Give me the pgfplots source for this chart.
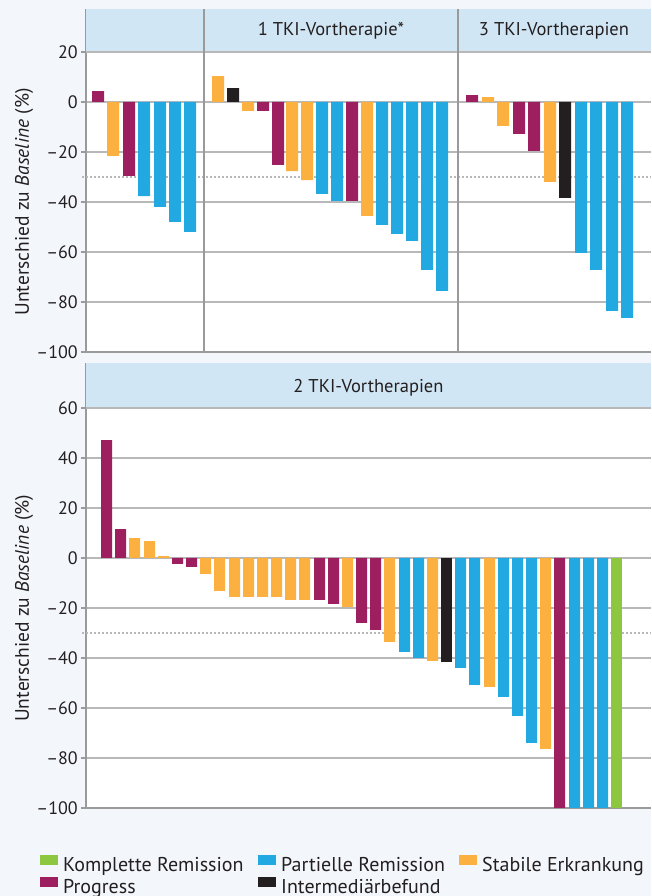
\documentclass[border=0pt]{standalone}
\usepackage{pgfplots}
\pgfplotsset{compat=1.18}
\usepackage{fontspec}
\setmainfont{PT Sans}
\definecolor{bgc}{HTML}{F3F7FC}
\definecolor{hdr}{HTML}{D1E6F4}
\definecolor{cCR}{HTML}{8DC63F}
\definecolor{cPR}{HTML}{23A9E1}
\definecolor{cSD}{HTML}{FBB040}
\definecolor{cPD}{HTML}{9E1F5F}
\definecolor{cIM}{HTML}{231F20}
\definecolor{gridc}{HTML}{B8B8B8}
\definecolor{axc}{HTML}{9A9A9A}
\definecolor{txt}{HTML}{231F20}
\newcommand{\tickfont}{\fontsize{18}{21}\selectfont}
\newcommand{\hdrfont}{\fontsize{18.5}{22}\selectfont}
\newcommand{\legfont}{\fontsize{20}{23}\selectfont}
\newcommand{\labfont}{\fontsize{19.5}{23}\selectfont}
\pgfplotsset{
  mybase/.style={
    scale only axis, width=565pt, xmin=86, xmax=651,
    anchor=south west, clip=false,
    axis background/.style={fill=white},
    axis x line*=bottom, axis y line*=left,
    axis line style={axc, line width=1.2pt, -},
    xtick=\empty,
    ymajorgrids, grid style={gridc, line width=1.2pt},
    tick align=outside, major tick length=5pt,
    tick style={axc, line width=1.2pt},
    yticklabel style={font=\tickfont, text=txt, inner sep=3pt},
    ylabel={Unterschied zu \textit{Baseline} (\%)},
    ylabel style={font=\labfont, text=txt, anchor=center},
  },
  mybar/.style={ybar, bar shift=0pt, draw=none, fill=#1,
    legend image code/.code={\fill[#1] (0pt,0pt) rectangle (18pt,10pt); \path (21pt,0pt);}},
}
\begin{document}
\begin{tikzpicture}
\fill[bgc] (0pt,0pt) rectangle (651pt,896pt);
% ---------------- top panel ----------------
\begin{axis}[mybase, at={(86pt,544pt)}, height=342.5pt,
  ymin=-100, ymax=37, ytick={-100,-80,...,20},
  yticklabels={–100,–80,–60,–40,–20,0,20},
  ylabel style={at={(rel axis cs:-0.1097,0.438)}},
  bar width=12]
\fill[hdr] (axis cs:86,20) rectangle (axis cs:651,37);
\draw[gridc, line width=1.2pt] (axis cs:86,20) -- (axis cs:651,20);
\draw[gridc, dash pattern=on 2pt off 2pt, line width=1.2pt] (axis cs:82,-30) -- (axis cs:651,-30);
\draw[axc, line width=1.2pt] (axis cs:204,-100) -- (axis cs:204,37);
\draw[axc, line width=1.2pt] (axis cs:458,-100) -- (axis cs:458,37);
\node[font=\hdrfont, text=txt] at (axis cs:331,28.4) {1 TKI-Vortherapie*};
\node[font=\hdrfont, text=txt] at (axis cs:554,28.4) {3 TKI-Vortherapien};
\addplot[mybar=cPR] coordinates {(144,-37.7) (160,-42) (175,-48) (190,-52)
  (322,-36.8) (337,-39.6) (382,-49.2) (397,-52.8) (412,-55.6) (427,-67.2) (442,-75.6)
  (581,-60.4) (596,-67.2) (612,-83.6) (627,-86.4)};
\addplot[mybar=cSD] coordinates {(113,-21.6) (218,10.3) (248,-3.6) (292,-27.7)
  (307,-31.3) (367,-45.6) (488,1.9) (503,-9.6) (550,-32)};
\addplot[mybar=cPD] coordinates {(98,4.3) (129,-29.6) (263,-3.6) (278,-25.2)
  (352,-39.6) (472,2.7) (519,-12.8) (534,-19.6)};
\addplot[mybar=cIM] coordinates {(233,5.5) (565,-38.4)};
\end{axis}
% ---------------- bottom panel ----------------
\begin{axis}[mybase, at={(86pt,88pt)}, height=445pt,
  ymin=-100, ymax=78, ytick={-100,-80,...,60},
  yticklabels={–100,–80,–60,–40,–20,0,20,40,60},
  ylabel style={at={(rel axis cs:-0.1097,0.449)}},
  bar width=11,
  legend columns=3,
  legend style={at={(axis cs:40,-118.8)}, anchor=north west, draw=none, fill=none,
    inner sep=0pt, font=\legfont, text=txt, row sep=2pt,
    nodes={inner sep=2pt}},
  legend cell align=left]
\fill[hdr] (axis cs:86,60) rectangle (axis cs:651,78);
\draw[gridc, line width=1.2pt] (axis cs:86,60) -- (axis cs:651,60);
\draw[gridc, dash pattern=on 2pt off 2pt, line width=1.2pt] (axis cs:82,-30) -- (axis cs:651,-30);
\node[font=\hdrfont, text=txt] at (axis cs:368.5,68) {2 TKI-Vortherapien};
\addplot[mybar=cCR] coordinates {(616.5,-100)};
\addlegendentry{\makebox[193pt][l]{Komplette Remission}}
\addplot[mybar=cPR] coordinates {(404.5,-37.6) (418.5,-40) (460.5,-44) (474.5,-50.8)
  (503.5,-55.6) (517.5,-63.2) (531.5,-74) (574.5,-100) (588.5,-100) (602.5,-100)};
\addlegendentry{\makebox[176pt][l]{Partielle Remission}}
\addplot[mybar=cSD] coordinates {(134.5,7.9) (149.5,6.7) (163.5,0.7) (205.5,-6.4)
  (219.5,-13.2) (234.5,-15.6) (248.5,-15.6) (262.5,-15.6) (276.5,-15.6) (290.5,-16.8)
  (304.5,-16.8) (347.5,-19.6) (389.5,-33.6) (432.5,-41.2) (489.5,-51.6) (545.5,-76.4)};
\addlegendentry{Stabile Erkrankung}
\addplot[mybar=cPD] coordinates {(106.5,47.1) (120.5,11.5) (177.5,-2.4) (191.5,-3.6)
  (319.5,-16.8) (333.5,-18.4) (361.5,-26) (375.5,-28.8) (559.5,-100)};
\addlegendentry{Progress}
\addplot[mybar=cIM] coordinates {(446.5,-41.6)};
\addlegendentry{Intermediärbefund}
\end{axis}
\pgfresetboundingbox
\useasboundingbox (0pt,0pt) rectangle (651pt,896pt);
\end{tikzpicture}
\end{document}
